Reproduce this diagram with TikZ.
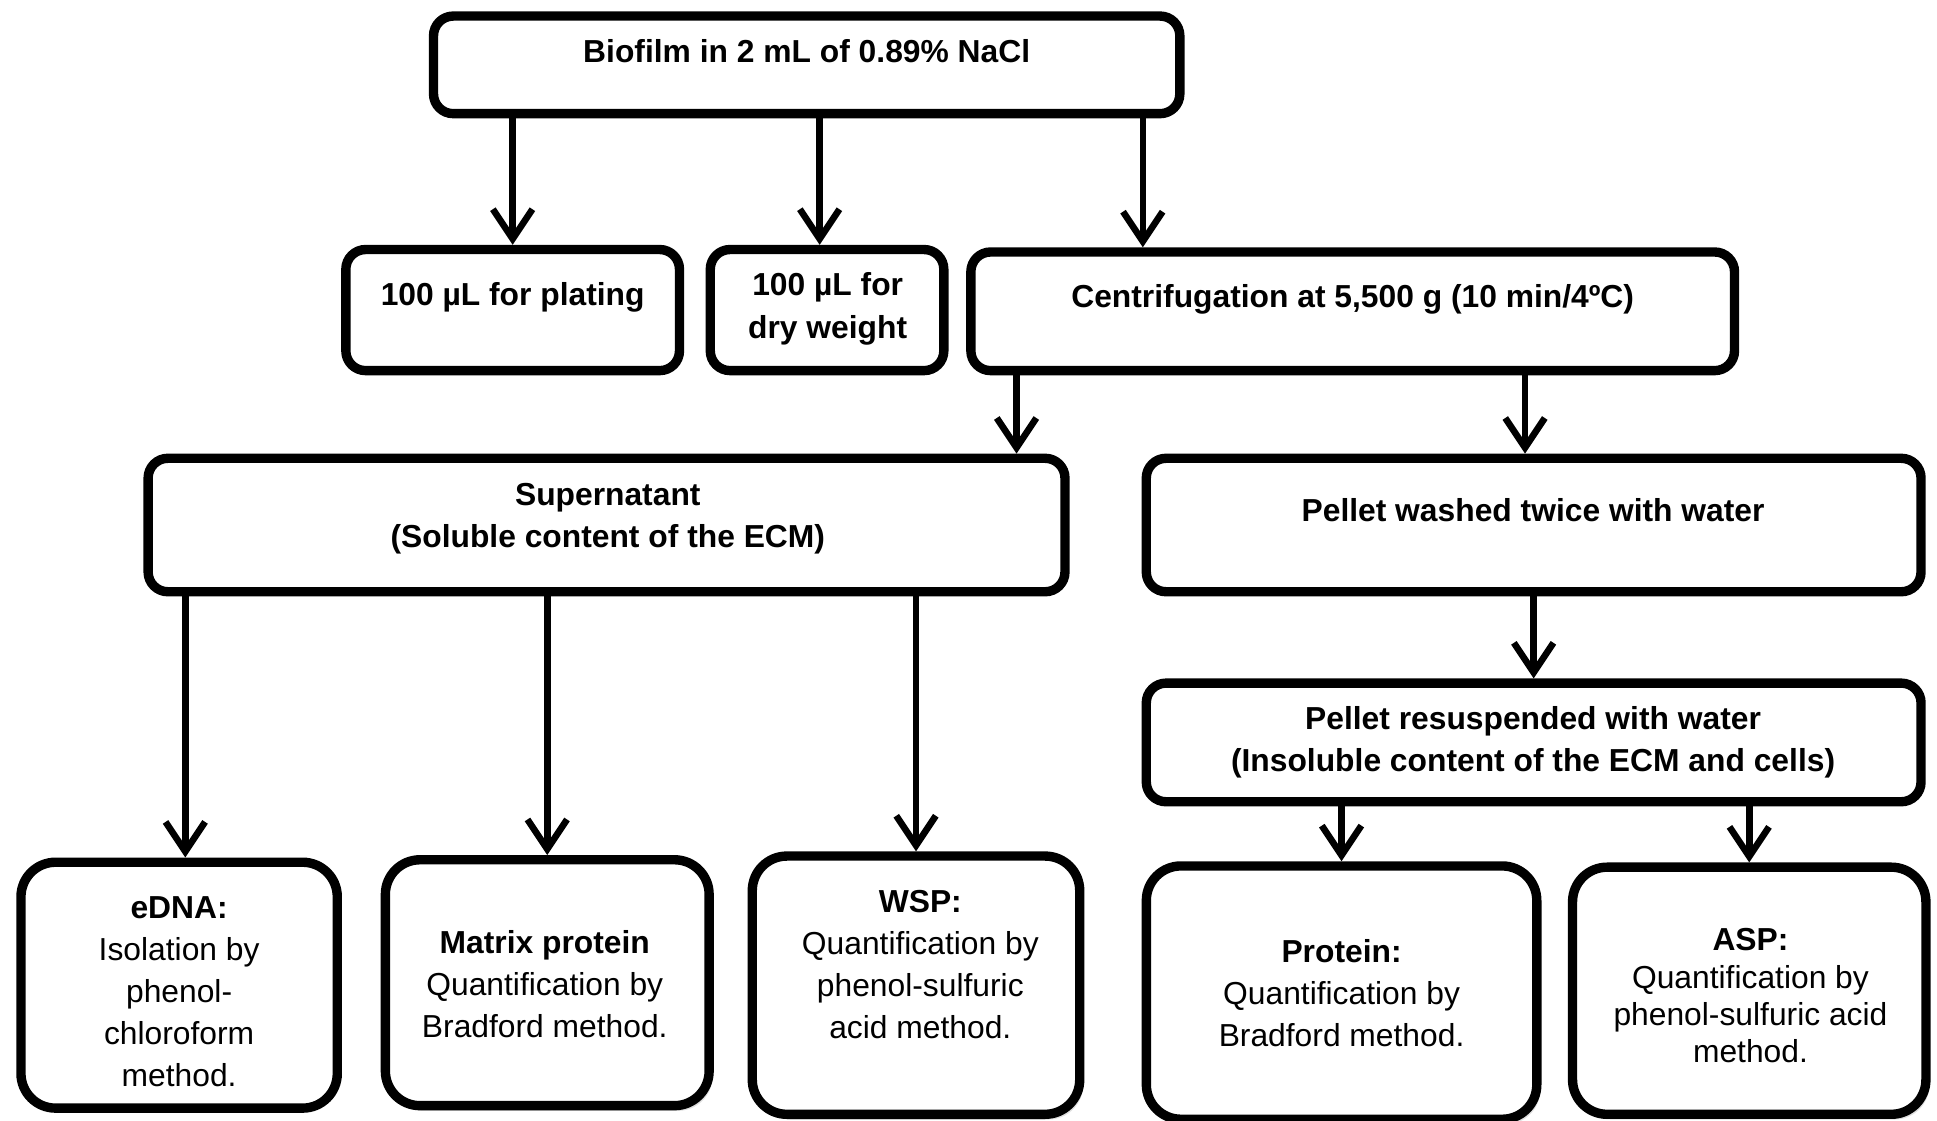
\documentclass[tikz,border=0pt]{standalone}
\usepackage{fontspec}
\setmainfont{Liberation Sans}
\usetikzlibrary{positioning, arrows.meta, calc, shadows}

\begin{document}
\begin{tikzpicture}[x=0.025cm, y=-0.025cm,
  box/.style={draw, line width=5.4pt, rounded corners=0.4cm, fill=white, inner sep=0pt},
  endbox/.style={box, rounded corners=0.7cm},
  shadowed/.style={drop shadow={shadow xshift=2pt, shadow yshift=-3pt, opacity=0.25}},
  txt/.style={align=center, inner sep=0pt, font=\fontsize{18.3pt}{24.2pt}\selectfont},
  arr/.style={line width=3.8pt, -{Straight Barb[length=0.6cm, width=0.8cm]}}]
  \useasboundingbox (0,0) rectangle (1568,907);

  % boxes
  \node[box, minimum width=15.1cm, minimum height=1.975cm] (bio) at (653,52.5) {};
  \node[box, minimum width=6.75cm, minimum height=2.45cm] (plate) at (415,251) {};
  \node[box, minimum width=4.725cm, minimum height=2.45cm] (dry) at (669.5,251) {};
  \node[box, minimum width=15.45cm, minimum height=2.4cm] (cent) at (1095,252) {};
  \node[box, minimum width=18.55cm, minimum height=2.7cm] (super) at (491,425) {};
  \node[box, minimum width=15.675cm, minimum height=2.7cm] (washed) at (1241.5,425) {};
  \node[box, minimum width=15.675cm, minimum height=2.4cm] (resus) at (1241.5,601) {};
  \node[endbox, minimum width=6.4cm, minimum height=4.975cm] (edna) at (145,797.5) {};
  \node[endbox, shadowed, minimum width=6.55cm, minimum height=4.975cm] (matrix) at (443,795.5) {};
  \node[endbox, shadowed, minimum width=6.625cm, minimum height=5.225cm] (wsp) at (741.5,797.5) {};
  \node[endbox, shadowed, minimum width=7.9cm, minimum height=5.125cm] (prot) at (1086,803.5) {};
  \node[endbox, shadowed, minimum width=7.15cm, minimum height=5cm] (asp) at (1416,802) {};

  % texts
  \node[txt] (bioT) at (653,41) {\textbf{Biofilm in 2 mL of 0.89\% NaCl}};
  \node[txt] (plateT) at (415,241) {\textbf{100 µL for plating}};
  \node[txt] (dryT) at (670,250) {\textbf{100 µL for}\\\textbf{dry weight}};
  \node[txt] (centT) at (1095,242) {\textbf{Centrifugation at 5,500 g (10 min/4ºC)}};
  \node[txt] (superT) at (492,420) {\textbf{Supernatant}\\\textbf{(Soluble content of the ECM)}};
  \node[txt] (washedT) at (1241,413) {\textbf{Pellet washed twice with water}};
  \node[txt] (resusT) at (1241,601) {\textbf{Pellet resuspended with water}\\\textbf{(Insoluble content of the ECM and cells)}};
  \node[txt] (ednaT) at (145,803) {\textbf{eDNA:}\\Isolation by\\phenol-\\chloroform\\method.};
  \node[txt] (matrixT) at (441,797) {\textbf{Matrix protein}\\Quantification by\\Bradford method.};
  \node[txt] (wspT) at (745,781) {\textbf{WSP:}\\Quantification by\\phenol-sulfuric\\acid method.};
  \node[txt] (protT) at (1086,804) {\textbf{Protein:}\\Quantification by\\Bradford method.};
  \node[txt, font=\fontsize{18.3pt}{21.4pt}\selectfont] (aspT) at (1417,806) {\textbf{ASP:}\\Quantification by\\phenol-sulfuric acid\\method.};

  % arrows
  \coordinate (d1) at ($(dry.north)+(-6,0)$);
  \coordinate (c1) at ($(cent.north west)+(143,0)$);
  \coordinate (s1) at ($(super.north east)+(-43,0)$);
  \coordinate (w1) at ($(washed.north)+(-7,0)$);
  \coordinate (e1) at ($(edna.north)+(5,0)$);
  \draw[arr] (bio.south -| plate.north) -- (plate.north);
  \draw[arr] (bio.south -| d1) -- (d1);
  \draw[arr] (bio.south -| c1) -- (c1);
  \draw[arr] (cent.south -| s1) -- (s1);
  \draw[arr] (cent.south -| w1) -- (w1);
  \draw[arr] (super.south -| e1) -- (e1);
  \draw[arr] (super.south -| matrix.north) -- (matrix.north);
  \draw[arr] (super.south -| wsp.north) -- (wsp.north);
  \draw[arr] (washed.south) -- (resus.north);
  \draw[arr] (resus.south -| prot.north) -- (prot.north);
  \draw[arr] (resus.south -| asp.north) -- (asp.north);
\end{tikzpicture}
\end{document}
